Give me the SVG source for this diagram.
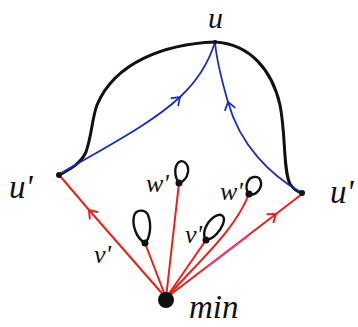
<svg xmlns="http://www.w3.org/2000/svg" width="358" height="327" viewBox="0 0 358 327">
<style>
.lbl{font-family:"Liberation Serif","DejaVu Serif",serif;font-style:italic;fill:#111}
.big{font-size:33px}
.sm{font-size:26px}
.blk{fill:none;stroke:#111;stroke-width:3;stroke-linecap:round;stroke-linejoin:round}
.blu{fill:none;stroke:#1a2fb0;stroke-width:1.8;stroke-linecap:round}
.red{fill:none;stroke:#e8201a;stroke-width:2;stroke-linecap:round}
.pink{fill:none;stroke:#e0408c;stroke-width:2;stroke-linecap:round}
.loop{fill:none;stroke:#111;stroke-width:2.4;stroke-linejoin:round}
.dot{fill:#111}
</style>
<defs>
<marker id="arrB" markerUnits="userSpaceOnUse" markerWidth="16" markerHeight="16" viewBox="-10 -8 12 16" refX="0" refY="0" orient="auto">
<path d="M-7,-5 L0,0 L-7,5" fill="none" stroke="#1a2fb0" stroke-width="1.8" stroke-linecap="round"/>
</marker>
<marker id="arrR" markerUnits="userSpaceOnUse" markerWidth="16" markerHeight="16" viewBox="-10 -8 12 16" refX="0" refY="0" orient="auto">
<path d="M-7,-5 L0,0 L-7,5" fill="none" stroke="#e8201a" stroke-width="2" stroke-linecap="round"/>
</marker>
</defs>
<g id="connectors">
<path class="blk" d="M215,42 C165,44 115,62 97,105 C92,118 92,135 86,152 C80,165 68,170 59,175"/>
<path class="blk" d="M215,42 C250,44 272,70 280,105 C286,135 283,170 290,184 C294,190 298,192 302,193"/>
<path class="blu" marker-mid="url(#arrB)" d="M60,174 C100,150 150,125 180,97 C195,83 208,65 215,42"/>
<path class="blu" marker-mid="url(#arrB)" d="M302,193 C270,175 240,145 228,102 C224,88 217,65 215,42"/>
<path class="red" marker-mid="url(#arrR)" d="M166,298 L89,210 L60,176"/>
<path class="red" marker-mid="url(#arrR)" d="M166,298 L276,214 L302,194"/>
<path class="pink" d="M207,267 L248,236"/>
<path class="red" d="M166,298 L145,243"/>
<path class="red" d="M166,298 L179,183"/>
<path class="red" d="M166,298 L206,240"/>
<path class="red" d="M166,298 C200,260 235,230 249,194"/>
</g>
<g id="node-u">
<circle class="dot" cx="215" cy="42" r="2"/>
<text class="lbl" style="font-size:30px" x="208" y="28">u</text>
</g>
<g id="node-u-left">
<circle class="dot" cx="59" cy="175" r="3"/>
<text class="lbl big" x="9" y="198">u'</text>
</g>
<g id="node-u-right">
<circle class="dot" cx="302" cy="193" r="3"/>
<text class="lbl big" x="330" y="203">u'</text>
</g>
<g id="node-min">
<circle class="dot" cx="166" cy="300" r="8"/>
<text class="lbl big" x="189" y="318">min</text>
</g>
<g id="node-v1">
<path class="loop" d="M145,243 C136,238 132,225 134,216 C136,209 145,209 148,215 C152,225 150,238 145,243 Z"/>
<circle class="dot" cx="145" cy="243" r="3.5"/>
<text class="lbl sm" x="94" y="263">v'</text>
</g>
<g id="node-w1">
<path class="loop" d="M179,183 C174,176 174,166 179,162 C184,159 189,165 188,172 C187,178 183,182 179,183 Z"/>
<circle class="dot" cx="179" cy="183" r="3.5"/>
<text class="lbl sm" x="146" y="192">w'</text>
</g>
<g id="node-v2">
<path class="loop" d="M206,240 C201,233 207,222 214,217 C221,212 226,216 223,224 C220,232 213,239 206,240 Z"/>
<circle class="dot" cx="206" cy="240" r="3.5"/>
<text class="lbl sm" x="185" y="243">v'</text>
</g>
<g id="node-w2">
<path class="loop" d="M249,194 C244,188 247,178 254,177 C261,176 263,184 259,190 C256,194 252,195 249,194 Z"/>
<circle class="dot" cx="249" cy="194" r="3.5"/>
<text class="lbl sm" x="220" y="200">w'</text>
</g>
</svg>
